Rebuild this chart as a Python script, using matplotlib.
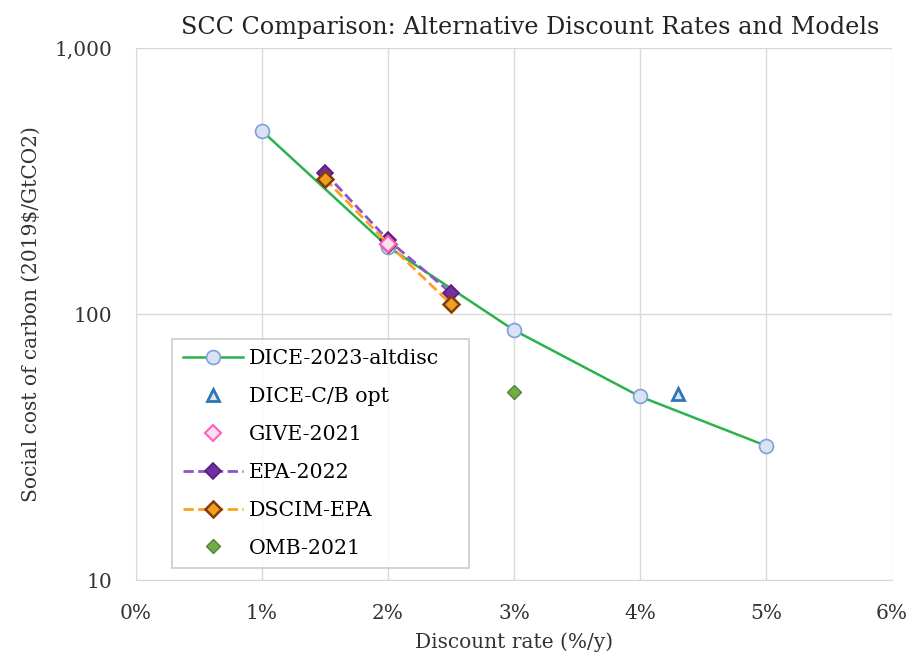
import matplotlib
matplotlib.use("Agg")
import matplotlib.pyplot as plt
from matplotlib.ticker import FixedLocator, FuncFormatter, NullLocator

plt.rcParams['font.family'] = ['DejaVu Serif']

dice_x = [1, 2, 3, 4, 5]
dice_y = [488, 179, 87, 49, 32]
cb_x = [4.3]
cb_y = [50]
give_x = [2]
give_y = [184]
epa_x = [1.5, 2, 2.5]
epa_y = [339, 190, 120]
dscim_x = [1.5, 2, 2.5]
dscim_y = [322, 184, 109]
omb_x = [3]
omb_y = [51]

fig = plt.figure(figsize=(9.14, 6.57), dpi=100)
ax = fig.add_axes([0.1488, 0.117, 0.827, 0.81])

ax.plot(dice_x, dice_y, '-', color='#2bb24c', lw=1.8, marker='o', ms=10,
        mfc='#dae3f3', mec='#7f9fdc', mew=1.2, label='DICE-2023-altdisc', zorder=3)
ax.plot(cb_x, cb_y, linestyle='none', marker='^', ms=9, mfc='#dae3f3',
        mec='#2e75b6', mew=2, label='DICE-C/B opt', zorder=4)
ax.plot(give_x, give_y, linestyle='none', marker='D', ms=8, mfc='#fbe0ef',
        mec='#ff5fbf', mew=1.5, label='GIVE-2021', zorder=6)
ax.plot(epa_x, epa_y, '--', color='#8a55c8', lw=2, marker='D', ms=8,
        mfc='#7030a0', mec='#5a1a80', mew=1.2, label='EPA-2022', zorder=4)
ax.plot(dscim_x, dscim_y, '--', color='#ffa020', lw=2, marker='D', ms=8,
        mfc='#f0a020', mec='#843c0c', mew=1.8, label='DSCIM-EPA', zorder=5)
ax.plot(omb_x, omb_y, linestyle='none', marker='D', ms=7, mfc='#70ad47',
        mec='#548235', mew=1, label='OMB-2021', zorder=4)

ax.set_yscale('log')
ax.set_ylim(10, 1000)
ax.set_xlim(0, 6)
ax.yaxis.set_major_locator(FixedLocator([10, 100, 1000]))
ax.yaxis.set_minor_locator(NullLocator())
ax.yaxis.set_major_formatter(FuncFormatter(lambda v, p: f"{int(round(v)):,}"))
ax.set_xticks([0, 1, 2, 3, 4, 5, 6])
ax.xaxis.set_major_formatter(FuncFormatter(lambda v, p: f"{int(round(v))}%"))

ax.grid(True, color='#d9d9d9', lw=1)
ax.set_axisbelow(True)
for s in ['top', 'right']:
    ax.spines[s].set_visible(False)
ax.spines['bottom'].set_color('#d9d9d9')
ax.spines['left'].set_color('#d9d9d9')
ax.tick_params(length=0, labelsize=14.5, colors='#333333')
ax.tick_params(axis='x', pad=17)
ax.tick_params(axis='y', pad=17)

ax.set_xlabel('Discount rate (%/y)', fontsize=14.5, color='#333333', labelpad=7)
ax.set_ylabel('Social cost of carbon (2019$/GtCO2)', fontsize=14.5, color='#333333', labelpad=10)
ax.set_title('SCC Comparison: Alternative Discount Rates and Models', fontsize=17.2,
             color='#222222', pad=10, x=0.521)

leg = ax.legend(loc='lower left', bbox_to_anchor=(0.048, 0.023, 0.393, 0.432),
                mode='expand', fontsize=14.8, frameon=True, fancybox=False,
                edgecolor='#bfbfbf', borderpad=0.5, labelspacing=0.92,
                handlelength=2.95, handletextpad=0.3, borderaxespad=0)
leg.get_frame().set_linewidth(1.2)

fig.savefig('out.png', dpi=100)
